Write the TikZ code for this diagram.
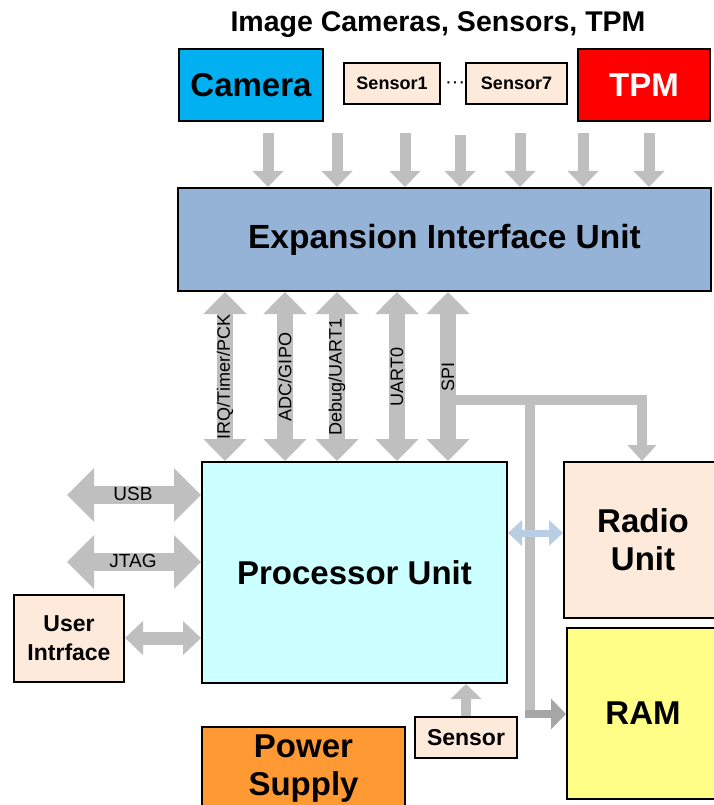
\documentclass[tikz,border=0pt]{standalone}
\usepackage{fontspec}
\setmainfont{Liberation Sans}
\usetikzlibrary{arrows.meta,calc}

\definecolor{camblue}{HTML}{00B0F0}
\definecolor{tpmred}{HTML}{FF0000}
\definecolor{peach}{HTML}{FDEADA}
\definecolor{expblue}{HTML}{95B3D7}
\definecolor{proccyan}{HTML}{CCFFFF}
\definecolor{ramyellow}{HTML}{FFFF88}
\definecolor{pwrorange}{HTML}{FF9933}
\definecolor{arrgray}{HTML}{BFBFBF}
\definecolor{arrdark}{HTML}{A6A6A6}
\definecolor{linkblue}{HTML}{B9CDE5}

\newcommand{\fsz}[1]{\fontsize{#1}{#1}\selectfont}

\tikzset{
  box/.style={draw=black, line width=2pt, inner sep=0pt, align=center,
              font=\bfseries\fontsize{33}{38}\selectfont},
  smallbox/.style={box, fill=peach, font=\bfseries\fontsize{18}{22}\selectfont},
  downarr/.style={draw=arrgray, line width=11pt,
                  -{Triangle[width=30pt,length=16pt]}},
  busarr/.style={draw=arrgray, line width=16pt,
                 {Triangle[width=42pt,length=22pt]}-{Triangle[width=42pt,length=22pt]}},
  sidearr/.style={draw=arrgray, line width=18pt,
                  {Triangle[width=52pt,length=27pt]}-{Triangle[width=52pt,length=27pt]}},
  uiarr/.style={draw=arrgray, line width=13pt,
                {Triangle[width=33pt,length=18pt]}-{Triangle[width=33pt,length=18pt]}},
  sensarr/.style={draw=arrgray, line width=10pt,
                  -{Triangle[width=30pt,length=15pt]}},
  spiline/.style={draw=arrgray, line width=10pt,
                  -{Triangle[width=28pt,length=16pt]}},
  trunk/.style={draw=arrgray, line width=10pt},
  ramarr/.style={draw=arrdark, line width=8pt,
                 -{Triangle[width=30pt,length=15pt]}},
  bluearr/.style={draw=linkblue, line width=7pt,
                  {Triangle[width=25pt,length=14pt]}-{Triangle[width=25pt,length=14pt]}},
  buslabel/.style={rotate=90, inner sep=0pt, font=\fsz{18}},
  sidelabel/.style={inner sep=0pt, font=\fsz{19}},
}

\begin{document}
\begin{tikzpicture}[x=1pt,y=-1pt]
\useasboundingbox (0,0) rectangle (714,805);
\clip (0,0) rectangle (714,805);

% heading
\node[inner sep=0pt, font=\bfseries\fsz{28.5}] (title) at (438,25) {Image Cameras, Sensors, TPM};

% peripheral row
\node[box, fill=camblue, minimum width=144pt, minimum height=72pt] (cam) at (251,85) {Camera};
\node[smallbox, minimum width=96pt, minimum height=41pt] (s1) at (392,83.5) {Sensor1};
\node[inner sep=0pt, anchor=base, font=\bfseries\fsz{14}] (dots) at (455.5,88)
  {\textperiodcentered\kern2pt\textperiodcentered\kern2pt\textperiodcentered};
\node[smallbox, minimum width=101pt, minimum height=41pt] (s7) at (516.5,83.5) {Sensor7};
\node[box, fill=tpmred, text=white, minimum width=132pt, minimum height=72pt] (tpm) at (644,85) {TPM};

% main blocks
\node[box, fill=expblue, minimum width=533pt, minimum height=103pt,
      font=\bfseries\fsz{33.5}] (exp) at (444.5,239.5) {Expansion Interface Unit};
\node[box, fill=proccyan, minimum width=305pt, minimum height=221pt] (proc) at (354.5,572.5) {Processor Unit};
\node[box, fill=peach, minimum width=158pt, minimum height=156pt] (radio) at (643,540) {Radio\\Unit};
\node[box, fill=ramyellow, minimum width=152pt, minimum height=171pt] (ram) at (643,713.5) {RAM};
\node[box, fill=pwrorange, minimum width=203pt, minimum height=90pt] (pwr) at (303.5,772) {};
\node[inner sep=0pt, align=center, font=\bfseries\fontsize{33}{38}\selectfont] (pwrtext) at (303.5,768.5) {Power\\Supply};
\node[box, fill=peach, font=\bfseries\fsz{23}, minimum width=102pt, minimum height=41pt] (sensb) at (466,737.5) {Sensor};
\node[box, fill=peach, font=\bfseries\fontsize{23}{29}\selectfont, minimum width=110pt, minimum height=87pt] (ui) at (69,638.5) {User\\Intrface};

% inputs into the expansion unit
\foreach \n/\x/\y in {1/268/133, 2/337/133, 3/405/133, 4/460/135, 5/520/133, 6/583/133, 7/649/133} {
  \coordinate (t\n) at (\x,\y);
  \draw[downarr] (t\n) -- (t\n |- exp.north);
}

% buses between expansion unit and processor
\foreach \n/\x/\txt in {1/225/IRQ\slash Timer\slash PCK, 2/285/ADC\slash GIPO, 3/337/Debug\slash UART1, 4/397/UART0, 5/448/SPI} {
  \coordinate (b\n) at (\x,377);
  \draw[busarr] (b\n |- exp.south) -- (b\n |- proc.north);
  \node[buslabel] (bl\n) at (b\n) {\txt};
}

% SPI branch to radio and RAM
\coordinate (br) at (448,400);
\coordinate (rk) at (642,400);
\coordinate (vt) at (530,400);
\coordinate (vb) at (530,718);
\coordinate (rj) at (525,714);
\draw[trunk] (vt) -- (vb);
\draw[ramarr] (rj) -- (rj -| ram.west);
\draw[spiline] (br) -- (rk) -- (rk |- radio.north);

% processor to radio link
\coordinate (bk) at (530,533);
\draw[bluearr] (bk -| proc.east) -- (bk -| radio.west);

% left side interfaces
\coordinate (usb) at (67,495);
\coordinate (jtag) at (67,562);
\draw[sidearr] (usb) -- (usb -| proc.west);
\draw[sidearr] (jtag) -- (jtag -| proc.west);
\node[sidelabel] (usbl) at (133,494) {USB};
\node[sidelabel] (jtagl) at (133,561) {JTAG};
\coordinate (uy) at (124,638);
\draw[uiarr] (uy -| ui.east) -- (uy -| proc.west);

% sensor below the processor
\draw[sensarr] (sensb.north) -- (sensb.north |- proc.south);
\end{tikzpicture}
\end{document}
